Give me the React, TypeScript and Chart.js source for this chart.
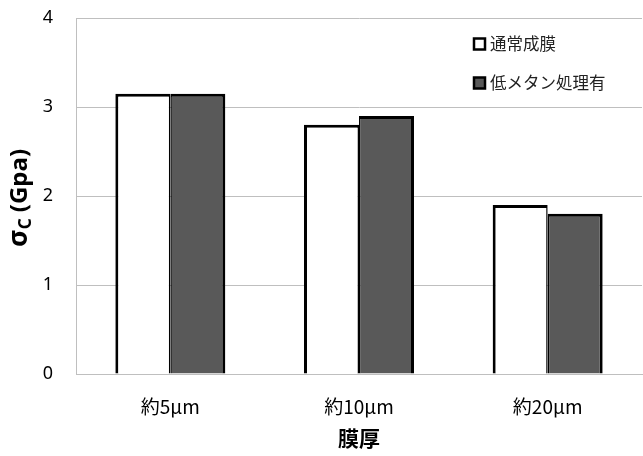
import React, { useEffect, useRef } from "react";
import { Chart, registerables } from "chart.js";

Chart.register(...registerables);

const categories = ["約5μm", "約10μm", "約20μm"];
const seriesNames = ["通常成膜", "低メタン処理有"];
const normalValues = [3.15, 2.8, 1.9];
const lowMethaneValues = [3.15, 2.9, 1.8];
const yMin = 0;
const yMax = 4;
const yStep = 1;
const xTitle = "膜厚";
const yTitleMain = "σ";
const yTitleSub = "C";
const yTitleRest = " (Gpa)";

const fills = ["#ffffff", "#595959"];
const CJK = '"Noto Sans CJK JP", "Noto Sans", sans-serif';
const LATIN = '"Noto Sans", "Noto Sans CJK JP", sans-serif';

const overlayPlugin = {
  id: "overlay",
  afterDraw(chart: any) {
    const ctx = chart.ctx as CanvasRenderingContext2D;
    const area = chart.chartArea;
    ctx.save();
    // x title
    ctx.fillStyle = "#000";
    ctx.font = `bold 21px ${CJK}`;
    ctx.textAlign = "center";
    ctx.textBaseline = "middle";
    ctx.fillText(xTitle, (area.left + area.right) / 2, 438);

    // y title with subscript
    ctx.save();
    ctx.translate(19, 198);
    ctx.rotate(-Math.PI / 2);
    ctx.textBaseline = "alphabetic";
    ctx.textAlign = "left";
    const fMain = `bold 27px ${LATIN}`;
    const fSub = `bold 17px ${LATIN}`;
    const fRest = `bold 24px ${LATIN}`;
    ctx.font = fMain;
    const w1 = ctx.measureText(yTitleMain).width;
    ctx.font = fSub;
    const w2 = ctx.measureText(yTitleSub).width;
    ctx.font = fRest;
    const w3 = ctx.measureText(yTitleRest).width;
    const total = w1 + w2 + w3;
    let x = -total / 2;
    const base = 8;
    ctx.font = fMain;
    ctx.fillText(yTitleMain, x, base);
    x += w1;
    ctx.font = fSub;
    ctx.fillText(yTitleSub, x, base + 4);
    x += w2;
    ctx.font = fRest;
    ctx.fillText(yTitleRest, x, base);
    ctx.restore();

    // legend
    const ys = [44, 83];
    ctx.font = `16.5px ${CJK}`;
    ctx.textAlign = "left";
    ctx.textBaseline = "middle";
    seriesNames.forEach((name, i) => {
      const y = ys[i];
      ctx.fillStyle = fills[i];
      ctx.fillRect(474, y - 5.5, 11, 11);
      ctx.lineWidth = 2.5;
      ctx.strokeStyle = "#000";
      ctx.strokeRect(474, y - 5.5, 11, 11);
      ctx.fillStyle = "#222";
      ctx.fillText(name, 490, y);
    });
    ctx.restore();
  },
};

export default function App() {
  const ref = useRef<HTMLCanvasElement | null>(null);
  useEffect(() => {
    if (!ref.current) return;
    const chart = new Chart(ref.current, {
      type: "bar",
      data: {
        labels: categories,
        datasets: [
          {
            label: seriesNames[0],
            data: normalValues,
            backgroundColor: fills[0],
            borderColor: "#000",
            borderWidth: { left: 3, top: 3, right: 1.5, bottom: 0 },
            borderSkipped: "start",
          },
          {
            label: seriesNames[1],
            data: lowMethaneValues,
            backgroundColor: fills[1],
            borderColor: "#000",
            borderWidth: { left: 1.5, top: 3, right: 3, bottom: 0 },
            borderSkipped: "start",
          },
        ],
      },
      options: {
        animation: false,
        responsive: true,
        maintainAspectRatio: false,
        layout: { padding: { top: 18, right: 1, left: 0, bottom: 0 } },
        datasets: {
          bar: { categoryPercentage: 0.583, barPercentage: 1 },
        },
        plugins: {
          legend: { display: false },
          tooltip: { enabled: false },
        },
        scales: {
          x: {
            grid: { display: false, drawTicks: false },
            border: { display: true, color: "#bfbfbf", width: 1 },
            ticks: {
              color: "#000",
              font: { family: CJK, size: 19 },
              padding: 21,
            },
            afterFit(s: any) {
              s.height = 82;
            },
          },
          y: {
            min: yMin,
            max: yMax,
            grid: { color: "#bfbfbf", drawTicks: false, lineWidth: 1 },
            border: { display: true, color: "#bfbfbf", width: 1 },
            ticks: {
              stepSize: yStep,
              color: "#000",
              font: { family: LATIN, size: 18 },
              padding: 23,
            },
            afterFit(s: any) {
              s.width = 76;
              s.paddingTop = 0;
              s.paddingBottom = 0;
            },
          },
        },
      },
      plugins: [overlayPlugin],
    });
    return () => chart.destroy();
  }, []);
  return (
    <div style={{ position: "absolute", left: 0, top: 0, width: 643, height: 456 }}>
      <canvas ref={ref} />
    </div>
  );
}
